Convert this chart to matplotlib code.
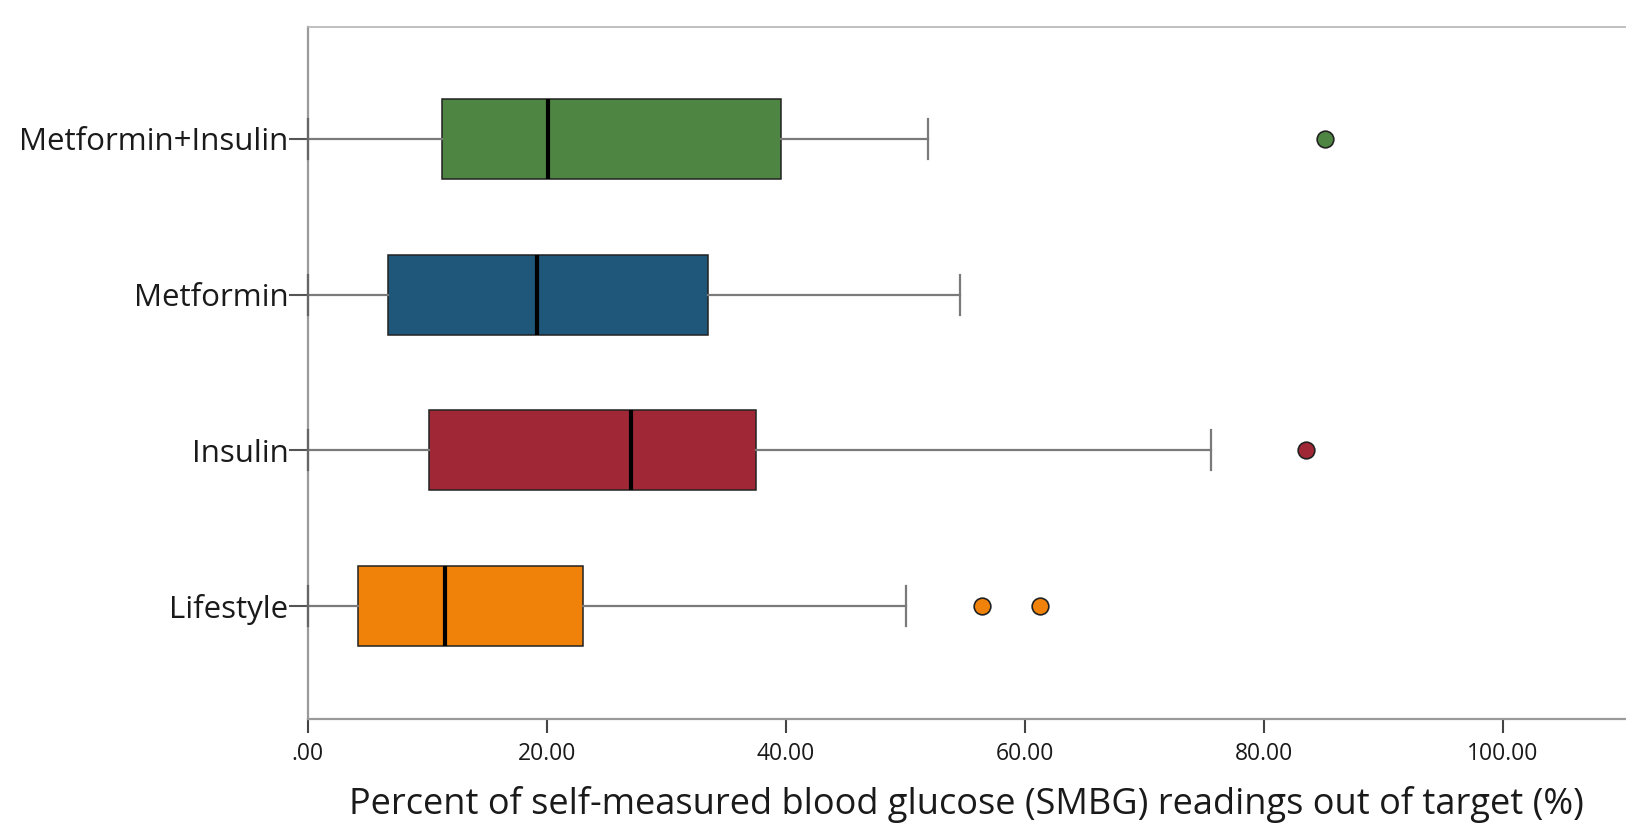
import matplotlib
matplotlib.use("Agg")
import matplotlib.pyplot as plt
from matplotlib.ticker import FuncFormatter

plt.rcParams['font.family'] = ['Open Sans', 'DejaVu Sans']

categories = ["Lifestyle", "Insulin", "Metformin", "Metformin+Insulin"]
whis_low = [0.0, 0.0, 0.0, 0.0]
q1 = [4.23, 10.15, 6.69, 11.2]
median = [11.5, 27.03, 19.16, 20.08]
q3 = [23.06, 37.5, 33.47, 39.6]
whis_high = [50.07, 75.6, 54.6, 51.9]
outliers = [[56.4, 61.3], [83.5], [], [85.1]]
colors = ["#F0820A", "#A02836", "#1E5779", "#4E8542"]
x_ticks = [0, 20, 40, 60, 80, 100]
x_label = "Percent of self-measured blood glucose (SMBG) readings out of target (%)"

fig = plt.figure(figsize=(16.26, 8.25), dpi=100)
ax = fig.add_axes([307.7 / 1626, 1 - 719.3 / 825, 1 - 307.7 / 1626, (719.3 - 26.7) / 825])

stats = []
for i, name in enumerate(categories):
    stats.append(dict(label=name, whislo=whis_low[i], q1=q1[i], med=median[i],
                      q3=q3[i], whishi=whis_high[i], fliers=outliers[i]))

positions = list(range(1, len(categories) + 1))
res = ax.bxp(stats, positions=positions, vert=False, widths=0.514, capwidths=0.257,
             patch_artist=True, showfliers=True,
             boxprops=dict(edgecolor="#222222", linewidth=1.1),
             medianprops=dict(color="black", linewidth=3.0),
             whiskerprops=dict(color="#7a7a7a", linewidth=1.6),
             capprops=dict(color="#7a7a7a", linewidth=1.6),
             flierprops=dict(marker='o', markersize=12, markeredgecolor="#222222",
                             markeredgewidth=1.2, linestyle='none'))
for patch, c in zip(res['boxes'], colors):
    patch.set_facecolor(c)
for fl, c in zip(res['fliers'], colors):
    fl.set_markerfacecolor(c)
for key in ['whiskers', 'caps', 'medians', 'fliers']:
    for a in res[key]:
        a.set_clip_on(False)
        a.set_zorder(3)
for a in res['boxes']:
    a.set_zorder(3)
for a in res['caps'][0::2]:
    a.set_color("#666666")

ax.set_xlim(0, (1626 - 307.7) / 11.95)
ax.set_ylim(0.272, 4.72)
ax.set_yticks(positions)
ax.set_yticklabels(categories)
ax.set_xticks(x_ticks)
ax.xaxis.set_major_formatter(FuncFormatter(lambda v, p: (f"{v:.2f}" if v != 0 else ".00")))

for s in ['left', 'bottom']:
    ax.spines[s].set_color("#9a9a9a")
    ax.spines[s].set_linewidth(1.6)
ax.spines['top'].set_color("#b5b5b5")
ax.spines['top'].set_linewidth(1.2)
ax.spines['right'].set_visible(False)

ax.tick_params(axis='y', length=13.5, width=1.5, color="#555555", pad=0.5,
               labelsize=22.5, labelcolor="#1a1a1a")
ax.tick_params(axis='x', length=10, width=1.5, color="#444444", pad=6,
               labelsize=16.5, labelcolor="#1a1a1a")
ax.set_xlabel(x_label, fontsize=26, color="#1a1a1a", labelpad=15)

fig.savefig("out.png", dpi=100)
